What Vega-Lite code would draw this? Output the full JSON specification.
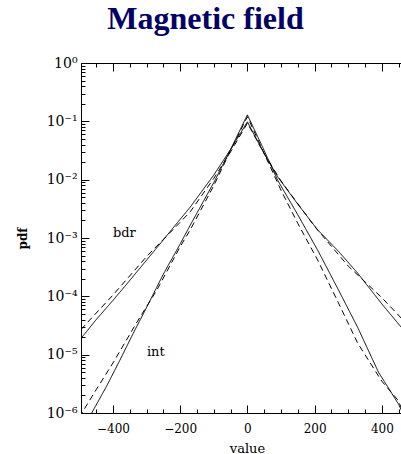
{
  "$schema": "https://vega.github.io/schema/vega-lite/v6.json",
  "autosize": "none",
  "padding": {"left": 81, "top": 63, "right": 0, "bottom": 41},
  "width": 321,
  "height": 350,
  "background": "white",
  "config": {"view": {"stroke": null}},
  "title": {
    "text": "Magnetic field",
    "font": "Liberation Serif",
    "fontSize": 32,
    "fontWeight": "bold",
    "color": "#000066",
    "anchor": "middle",
    "dx": -36,
    "dy": 33,
    "offset": 28,
    "baseline": "alphabetic"
  },
  "datasets": {
    "curves": [
      {"x": -495, "p": 1.9e-5, "curve": "bdr", "kind": "solid"},
      {"x": -450, "p": 3.98e-5, "curve": "bdr", "kind": "solid"},
      {"x": -400, "p": 8.5e-5, "curve": "bdr", "kind": "solid"},
      {"x": -349, "p": 1.9e-4, "curve": "bdr", "kind": "solid"},
      {"x": -300, "p": 4.17e-4, "curve": "bdr", "kind": "solid"},
      {"x": -250, "p": 9.3e-4, "curve": "bdr", "kind": "solid"},
      {"x": -200, "p": 2.09e-3, "curve": "bdr", "kind": "solid"},
      {"x": -170, "p": 3.39e-3, "curve": "bdr", "kind": "solid"},
      {"x": -100, "p": 0.012, "curve": "bdr", "kind": "solid"},
      {"x": -50, "p": 0.033, "curve": "bdr", "kind": "solid"},
      {"x": 0, "p": 0.098, "curve": "bdr", "kind": "solid"},
      {"x": 50, "p": 0.028, "curve": "bdr", "kind": "solid"},
      {"x": 90, "p": 0.0112, "curve": "bdr", "kind": "solid"},
      {"x": 150, "p": 0.0038, "curve": "bdr", "kind": "solid"},
      {"x": 209, "p": 1.38e-3, "curve": "bdr", "kind": "solid"},
      {"x": 270, "p": 6.0e-4, "curve": "bdr", "kind": "solid"},
      {"x": 328, "p": 2.5e-4, "curve": "bdr", "kind": "solid"},
      {"x": 400, "p": 7.4e-5, "curve": "bdr", "kind": "solid"},
      {"x": 460, "p": 2.85e-5, "curve": "bdr", "kind": "solid"},

      {"x": -495, "p": 2.7e-5, "curve": "bdr", "kind": "dashed"},
      {"x": -460, "p": 4.47e-5, "curve": "bdr", "kind": "dashed"},
      {"x": -400, "p": 1.05e-4, "curve": "bdr", "kind": "dashed"},
      {"x": -300, "p": 4.8e-4, "curve": "bdr", "kind": "dashed"},
      {"x": -200, "p": 1.86e-3, "curve": "bdr", "kind": "dashed"},
      {"x": -170, "p": 2.82e-3, "curve": "bdr", "kind": "dashed"},
      {"x": -100, "p": 0.0105, "curve": "bdr", "kind": "dashed"},
      {"x": -50, "p": 0.030, "curve": "bdr", "kind": "dashed"},
      {"x": 0, "p": 0.093, "curve": "bdr", "kind": "dashed"},
      {"x": 50, "p": 0.028, "curve": "bdr", "kind": "dashed"},
      {"x": 100, "p": 0.0095, "curve": "bdr", "kind": "dashed"},
      {"x": 200, "p": 1.58e-3, "curve": "bdr", "kind": "dashed"},
      {"x": 300, "p": 3.3e-4, "curve": "bdr", "kind": "dashed"},
      {"x": 400, "p": 9.5e-5, "curve": "bdr", "kind": "dashed"},
      {"x": 460, "p": 4.1e-5, "curve": "bdr", "kind": "dashed"},

      {"x": -470, "p": 8.5e-7, "curve": "int", "kind": "solid"},
      {"x": -420, "p": 2.8e-6, "curve": "int", "kind": "solid"},
      {"x": -379, "p": 8.1e-6, "curve": "int", "kind": "solid"},
      {"x": -340, "p": 2.3e-5, "curve": "int", "kind": "solid"},
      {"x": -299, "p": 6.6e-5, "curve": "int", "kind": "solid"},
      {"x": -250, "p": 2.4e-4, "curve": "int", "kind": "solid"},
      {"x": -200, "p": 7.9e-4, "curve": "int", "kind": "solid"},
      {"x": -170, "p": 1.66e-3, "curve": "int", "kind": "solid"},
      {"x": -100, "p": 8.9e-3, "curve": "int", "kind": "solid"},
      {"x": -50, "p": 0.033, "curve": "int", "kind": "solid"},
      {"x": 0, "p": 0.129, "curve": "int", "kind": "solid"},
      {"x": 50, "p": 0.0316, "curve": "int", "kind": "solid"},
      {"x": 90, "p": 9.8e-3, "curve": "int", "kind": "solid"},
      {"x": 150, "p": 2.5e-3, "curve": "int", "kind": "solid"},
      {"x": 209, "p": 6.2e-4, "curve": "int", "kind": "solid"},
      {"x": 270, "p": 1.32e-4, "curve": "int", "kind": "solid"},
      {"x": 328, "p": 2.95e-5, "curve": "int", "kind": "solid"},
      {"x": 390, "p": 5.0e-6, "curve": "int", "kind": "solid"},
      {"x": 451, "p": 1.38e-6, "curve": "int", "kind": "solid"},
      {"x": 465, "p": 9.0e-7, "curve": "int", "kind": "solid"},

      {"x": -500, "p": 8.5e-7, "curve": "int", "kind": "dashed"},
      {"x": -450, "p": 2.5e-6, "curve": "int", "kind": "dashed"},
      {"x": -400, "p": 7.2e-6, "curve": "int", "kind": "dashed"},
      {"x": -330, "p": 3.5e-5, "curve": "int", "kind": "dashed"},
      {"x": -269, "p": 1.29e-4, "curve": "int", "kind": "dashed"},
      {"x": -200, "p": 7.1e-4, "curve": "int", "kind": "dashed"},
      {"x": -170, "p": 1.38e-3, "curve": "int", "kind": "dashed"},
      {"x": -100, "p": 7.9e-3, "curve": "int", "kind": "dashed"},
      {"x": -50, "p": 0.0316, "curve": "int", "kind": "dashed"},
      {"x": 0, "p": 0.12, "curve": "int", "kind": "dashed"},
      {"x": 50, "p": 0.028, "curve": "int", "kind": "dashed"},
      {"x": 100, "p": 6.6e-3, "curve": "int", "kind": "dashed"},
      {"x": 150, "p": 1.78e-3, "curve": "int", "kind": "dashed"},
      {"x": 209, "p": 4.2e-4, "curve": "int", "kind": "dashed"},
      {"x": 270, "p": 7.9e-5, "curve": "int", "kind": "dashed"},
      {"x": 328, "p": 1.58e-5, "curve": "int", "kind": "dashed"},
      {"x": 400, "p": 3.5e-6, "curve": "int", "kind": "dashed"},
      {"x": 448, "p": 1.66e-6, "curve": "int", "kind": "dashed"},
      {"x": 460, "p": 1.15e-6, "curve": "int", "kind": "dashed"}
    ],
    "labels": [
      {"x": -400, "p": 1.23e-3, "label": "bdr"},
      {"x": -299, "p": 1.12e-5, "label": "int"}
    ]
  },
  "resolve": {"axis": {"x": "independent"}},
  "layer": [
    {
      "data": {"name": "curves"},
      "mark": {"type": "line", "clip": true, "color": "black", "strokeWidth": 1},
      "encoding": {
        "x": {
          "field": "x", "type": "quantitative",
          "scale": {"domain": [-495, 460], "nice": false, "zero": false},
          "axis": {
            "orient": "bottom",
            "values": [-450, -400, -350, -300, -250, -200, -150, -100, -50, 0, 50, 100, 150, 200, 250, 300, 350, 400, 450],
            "labelExpr": "datum.value % 200 === 0 ? (datum.value < 0 ? '\u2212' + abs(datum.value) : '' + datum.value) : ''",
            "tickSize": {"condition": {"test": "datum.value % 200 === 0", "value": -8}, "value": -4},
            "labelPadding": 18,
            "labelOverlap": false,
            "labelFlush": false,
            "labelFont": "DejaVu Serif",
            "labelFontSize": 12,
            "labelColor": "black",
            "tickColor": "black",
            "domainColor": "black",
            "grid": false,
            "title": "value",
            "titleFont": "DejaVu Serif",
            "titleFontSize": 13,
            "titleFontWeight": "normal",
            "titleColor": "black",
            "titleX": 166,
            "titleY": 29
          }
        },
        "y": {
          "field": "p", "type": "quantitative",
          "scale": {"type": "log", "domain": [1e-6, 1], "nice": false},
          "axis": {
            "values": [1e-6, 2e-6, 3e-6, 4e-6, 5e-6, 6e-6, 7e-6, 8e-6, 9e-6, 1e-5, 2e-5, 3e-5, 4e-5, 5e-5, 6e-5, 7e-5, 8e-5, 9e-5, 1e-4, 2e-4, 3e-4, 4e-4, 5e-4, 6e-4, 7e-4, 8e-4, 9e-4, 1e-3, 2e-3, 3e-3, 4e-3, 5e-3, 6e-3, 7e-3, 8e-3, 9e-3, 0.01, 0.02, 0.03, 0.04, 0.05, 0.06, 0.07, 0.08, 0.09, 0.1, 0.2, 0.3, 0.4, 0.5, 0.6, 0.7, 0.8, 0.9, 1],
            "labelExpr": "abs(log(datum.value)/LN10 - round(log(datum.value)/LN10)) < 0.001 ? ['10\u2070','10\u207b\u00b9','10\u207b\u00b2','10\u207b\u00b3','10\u207b\u2074','10\u207b\u2075','10\u207b\u2076'][-round(log(datum.value)/LN10)] : ''",
            "tickSize": {"condition": {"test": "abs(log(datum.value)/LN10 - round(log(datum.value)/LN10)) < 0.001", "value": -8}, "value": -4},
            "labelPadding": 12,
            "labelOverlap": false,
            "labelFlush": false,
            "labelFont": "DejaVu Serif",
            "labelFontSize": 14,
            "labelColor": "black",
            "tickColor": "black",
            "domainColor": "black",
            "grid": false,
            "title": "pdf",
            "titleFont": "DejaVu Serif",
            "titleFontSize": 12,
            "titleFontWeight": "bold",
            "titleColor": "black",
            "titleX": -52,
            "titleY": 175
          }
        },
        "detail": {"field": "curve"},
        "strokeDash": {
          "field": "kind", "type": "nominal",
          "scale": {"domain": ["solid", "dashed"], "range": [[1, 0], [6, 4]]},
          "legend": null
        }
      }
    },
    {
      "data": {"name": "labels"},
      "mark": {"type": "text", "align": "left", "baseline": "middle", "font": "DejaVu Serif", "fontSize": 13, "color": "black"},
      "encoding": {
        "x": {
          "field": "x", "type": "quantitative",
          "axis": {
            "orient": "top",
            "values": [-450, -400, -350, -300, -250, -200, -150, -100, -50, 0, 50, 100, 150, 200, 250, 300, 350, 400, 450],
            "labels": false,
            "tickSize": {"condition": {"test": "datum.value % 200 === 0", "value": -8}, "value": -4},
            "tickColor": "black",
            "domainColor": "black",
            "grid": false,
            "title": null
          }
        },
        "y": {"field": "p", "type": "quantitative"},
        "text": {"field": "label"}
      }
    }
  ]
}
